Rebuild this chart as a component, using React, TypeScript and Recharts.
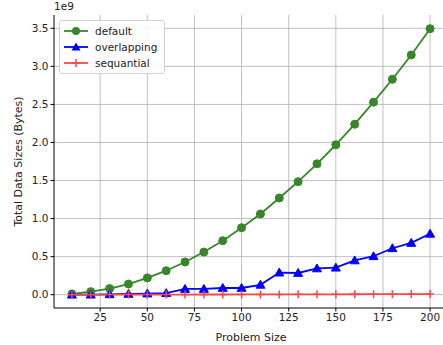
import React from 'react';
import { CartesianGrid, Line, LineChart, XAxis, YAxis } from 'recharts';

const problemSizes = [10, 20, 30, 40, 50, 60, 70, 80, 90, 100, 110, 120, 130, 140, 150, 160, 170, 180, 190, 200];
const defaultBytes = [
  0.01e9, 0.04e9, 0.08e9, 0.14e9, 0.22e9, 0.315e9, 0.43e9, 0.56e9, 0.71e9, 0.88e9,
  1.06e9, 1.27e9, 1.485e9, 1.72e9, 1.97e9, 2.24e9, 2.53e9, 2.83e9, 3.15e9, 3.495e9,
];
const overlappingBytes = [
  0.0, 0.0, 0.005e9, 0.01e9, 0.015e9, 0.02e9, 0.075e9, 0.075e9, 0.088e9, 0.088e9,
  0.13e9, 0.29e9, 0.285e9, 0.345e9, 0.355e9, 0.45e9, 0.505e9, 0.61e9, 0.68e9, 0.8e9,
];
const sequentialBytes = [
  0.0005e9, 0.0006e9, 0.0008e9, 0.001e9, 0.0012e9, 0.0015e9, 0.0018e9, 0.0021e9, 0.0025e9, 0.0029e9,
  0.0033e9, 0.0037e9, 0.0042e9, 0.0047e9, 0.0052e9, 0.0058e9, 0.0064e9, 0.007e9, 0.0077e9, 0.0084e9,
];
const xTicks = [25, 50, 75, 100, 125, 150, 175, 200];
const yTicks = [0, 0.5e9, 1e9, 1.5e9, 2e9, 2.5e9, 3e9, 3.5e9];

const GREEN = '#38862a';
const BLUE = '#0000ff';
const RED = '#f44a4a';
const FONT = '"DejaVu Sans", sans-serif';

const data = problemSizes.map((size, i) => ({
  size,
  default: defaultBytes[i],
  overlapping: overlappingBytes[i],
  sequential: sequentialBytes[i],
}));

const CircleDot = (props: any) => {
  const { cx, cy, index } = props;
  if (cx == null || cy == null) return null;
  return <circle key={`c-${index}`} cx={cx} cy={cy} r={4} fill={GREEN} stroke={GREEN} />;
};

const TriangleDot = (props: any) => {
  const { cx, cy, index } = props;
  if (cx == null || cy == null) return null;
  const r = 4.5;
  return (
    <polygon
      key={`t-${index}`}
      points={`${cx},${cy - r} ${cx - r},${cy + r * 0.75} ${cx + r},${cy + r * 0.75}`}
      fill={BLUE}
      stroke={BLUE}
    />
  );
};

const PlusDot = (props: any) => {
  const { cx, cy, index } = props;
  if (cx == null || cy == null) return null;
  return (
    <path
      key={`p-${index}`}
      d={`M${cx - 4},${cy}H${cx + 4}M${cx},${cy - 4}V${cy + 4}`}
      stroke={RED}
      strokeWidth={1.5}
    />
  );
};

const legendItems = [
  { label: 'default', color: GREEN, marker: 'circle' },
  { label: 'overlapping', color: BLUE, marker: 'triangle' },
  { label: 'sequantial', color: RED, marker: 'plus' },
];

const LegendBox = () => (
  <div
    style={{
      position: 'absolute',
      left: 59,
      top: 20,
      width: 104,
      padding: '2px 0',
      border: '1px solid #d0d0d0',
      borderRadius: 3,
      background: 'rgba(255,255,255,0.85)',
      fontFamily: FONT,
      fontSize: 10.5,
      color: '#222',
    }}
  >
    {legendItems.map((item) => (
      <div key={item.label} style={{ display: 'flex', alignItems: 'center', height: 16 }}>
        <svg width={32} height={12} style={{ marginLeft: 3 }}>
          <line x1={1} y1={6} x2={25} y2={6} stroke={item.color} strokeWidth={1.8} />
          {item.marker === 'circle' && <circle cx={13} cy={6} r={4} fill={item.color} />}
          {item.marker === 'triangle' && <polygon points="13,1.5 8.5,9.4 17.5,9.4" fill={item.color} />}
          {item.marker === 'plus' && <path d="M9,6H17M13,2V10" stroke={item.color} strokeWidth={1.5} />}
        </svg>
        <span>{item.label}</span>
      </div>
    ))}
  </div>
);

const tickStyle = { fontFamily: FONT, fontSize: 10.5, fill: '#222' };
const labelStyle = { fontFamily: FONT, fontSize: 11, fill: '#222' };

export default function App() {
  return (
    <div style={{ position: 'fixed', left: 0, top: 0, width: 443, height: 345, overflow: 'hidden', background: '#fff' }}>
      <div style={{ position: 'absolute', left: 54, top: 0, fontFamily: FONT, fontSize: 10.5, color: '#222' }}>1e9</div>
      <LineChart width={460} height={345} data={data} margin={{ top: 15, right: 12, bottom: 0, left: 0 }}>
        <CartesianGrid stroke="#b0b0b0" strokeWidth={0.8} horizontalValues={yTicks} verticalValues={xTicks} />
        <XAxis
          dataKey="size"
          type="number"
          domain={[0.5, 209.5]}
          ticks={xTicks}
          interval={0}
          height={37}
          tick={tickStyle}
          tickSize={3.5}
          tickMargin={2}
          stroke="#000"
          label={{ value: 'Problem Size', position: 'insideBottom', offset: 4, style: labelStyle }}
        />
        <XAxis
          xAxisId="top"
          orientation="top"
          dataKey="size"
          type="number"
          domain={[0.5, 209.5]}
          height={0}
          tick={false}
          tickLine={false}
          stroke="#000"
        />
        <YAxis
          type="number"
          domain={[-0.175e9, 3.675e9]}
          ticks={yTicks}
          interval={0}
          width={54}
          tick={tickStyle}
          tickSize={3.5}
          tickMargin={2}
          stroke="#000"
          tickFormatter={(v: number) => (v / 1e9).toFixed(1)}
          label={{
            value: 'Total Data Sizes (Bytes)',
            angle: -90,
            position: 'insideLeft',
            offset: 18,
            style: { ...labelStyle, textAnchor: 'middle' },
          }}
        />
        <Line
          dataKey="default"
          stroke={GREEN}
          strokeWidth={1.8}
          dot={CircleDot}
          activeDot={false}
          isAnimationActive={false}
        />
        <Line
          dataKey="overlapping"
          stroke={BLUE}
          strokeWidth={1.8}
          dot={TriangleDot}
          activeDot={false}
          isAnimationActive={false}
        />
        <Line
          dataKey="sequential"
          stroke={RED}
          strokeWidth={1.8}
          dot={PlusDot}
          activeDot={false}
          isAnimationActive={false}
        />
      </LineChart>
      <LegendBox />
    </div>
  );
}
